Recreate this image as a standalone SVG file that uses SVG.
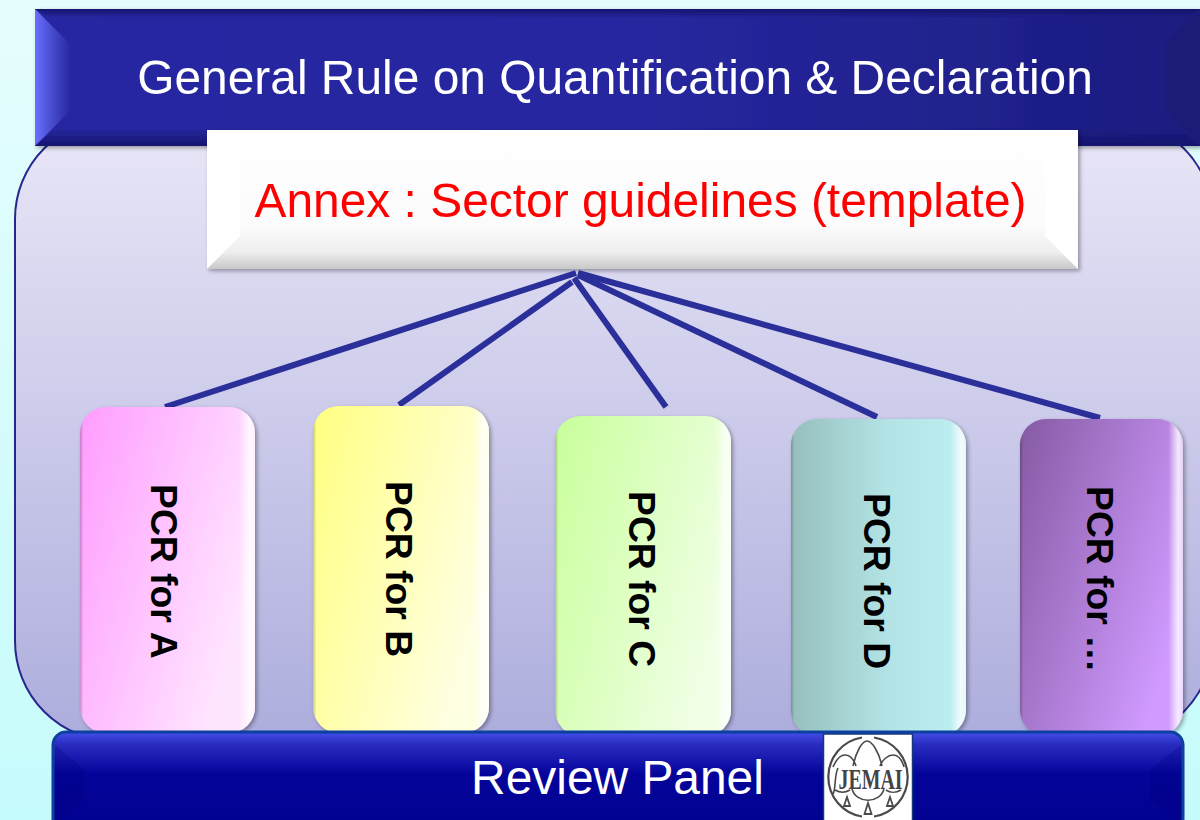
<svg xmlns="http://www.w3.org/2000/svg" width="1200" height="820" viewBox="0 0 1200 820">
<style>
.s{font-family:"Liberation Sans",Arial,sans-serif}
.t{font-size:47.900px;text-anchor:middle}
.p{font-size:37.300px;font-weight:700;fill:#000}
.c{fill:none;stroke:#2b2f9a;stroke-width:6}
.card{filter:url(#sh)}
.log{fill:none;stroke:#4a4a4a;stroke-width:1.600}
.tri{fill:none;stroke:#4a4a4a;stroke-width:1.800}
</style>
<defs>
<linearGradient id="bg" x1="0" y1="0" x2="0" y2="1"><stop offset="0" stop-color="#e6fdfd"/><stop offset="1" stop-color="#c6fbfb"/></linearGradient>
<linearGradient id="pn" x1="0" y1="0" x2="0" y2="1"><stop offset="0" stop-color="#e9e7f7"/><stop offset="1" stop-color="#adaddd"/></linearGradient>
<linearGradient id="hd" x1="0" y1="0" x2="1" y2="0"><stop offset="0" stop-color="#2828a2"/><stop offset=".5" stop-color="#2727a0"/><stop offset="1" stop-color="#1c1c80"/></linearGradient>
<linearGradient id="hdl" x1="0" y1="0" x2="1" y2="0"><stop offset="0" stop-color="#6a70ff"/><stop offset=".45" stop-color="#4a4ed0"/><stop offset="1" stop-color="#2828a2"/></linearGradient>
<linearGradient id="hdb" x1="0" y1="0" x2="0" y2="1"><stop offset="0" stop-color="#14146e" stop-opacity="0"/><stop offset="1" stop-color="#14146e"/></linearGradient>
<linearGradient id="hdt" x1="0" y1="0" x2="0" y2="1"><stop offset="0" stop-color="#14146e"/><stop offset="1" stop-color="#14146e" stop-opacity="0"/></linearGradient>
<linearGradient id="an" x1="0" y1="0" x2="0" y2="1"><stop offset="0" stop-color="#fff"/><stop offset=".7" stop-color="#fbfbfb"/><stop offset=".88" stop-color="#eeeeee"/><stop offset="1" stop-color="#c8c8c8"/></linearGradient>
<linearGradient id="rv" x1="0" y1="0" x2="0" y2="1"><stop offset="0" stop-color="#4450ea"/><stop offset=".12" stop-color="#2a2cc0"/><stop offset=".42" stop-color="#04049a"/><stop offset="1" stop-color="#020290"/></linearGradient>
<linearGradient id="ga" x1="0" y1="0" x2="1" y2=".5"><stop offset="0" stop-color="#ff9cff"/><stop offset="1" stop-color="#ffe6ff"/></linearGradient>
<linearGradient id="gb" x1="0" y1="0" x2="1" y2=".5"><stop offset="0" stop-color="#ffff80"/><stop offset="1" stop-color="#ffffe2"/></linearGradient>
<linearGradient id="gc" x1="0" y1="0" x2="1" y2=".5"><stop offset="0" stop-color="#c8ff9a"/><stop offset="1" stop-color="#f0ffe5"/></linearGradient>
<linearGradient id="gd" x1="0" y1="0" x2="1" y2="0"><stop offset="0" stop-color="#96bfbd"/><stop offset=".55" stop-color="#b3e3e5"/><stop offset="1" stop-color="#bdf0f3"/></linearGradient>
<linearGradient id="ge" x1="0" y1="0" x2="1" y2=".6"><stop offset="0" stop-color="#855aa3"/><stop offset="1" stop-color="#d09aff"/></linearGradient>
<linearGradient id="ed" x1="0" y1="0" x2="1" y2="0"><stop offset="0" stop-color="#000" stop-opacity=".22"/><stop offset=".02" stop-color="#000" stop-opacity="0"/><stop offset=".91" stop-color="#fff" stop-opacity="0"/><stop offset=".97" stop-color="#fff" stop-opacity=".8"/><stop offset="1" stop-color="#fff" stop-opacity=".6"/></linearGradient>
<filter id="sh" x="-5%" y="-5%" width="112%" height="112%"><feDropShadow dx="2" dy="2" stdDeviation="2" flood-color="#000" flood-opacity=".35"/></filter>
</defs>

<rect width="1200" height="820" fill="url(#bg)"/>
<g id="panel"><rect x="15" y="119" width="1198" height="622" rx="100" fill="url(#pn)" stroke="#26268c" stroke-width="2"/></g>

<g id="header" filter="url(#sh)">
<rect x="35" y="9" width="1165" height="137" fill="url(#hd)"/>
<polygon points="35,9 70,44 70,111 35,146" fill="url(#hdl)"/>
<polygon points="35,9 50,18 1185,18 1200,9" fill="url(#hdt)"/>
<polygon points="35,146 55,128 1180,128 1200,146" fill="url(#hdb)"/>
<polygon points="1200,9 1165,44 1165,111 1200,146" fill="#1b1b78"/>
<text class="s t" x="615" y="94" fill="#fff">General Rule on Quantification &amp; Declaration</text>
</g>

<g id="annex" filter="url(#sh)">
<rect x="207" y="130" width="871" height="139" fill="url(#an)"/>
<polygon points="207,130 240,163 240,236 207,269" fill="#fff"/>
<polygon points="1078,130 1045,163 1045,236 1078,269" fill="#fff"/>
<text class="s t" x="640.500" y="217" fill="#f00">Annex : Sector guidelines (template)</text>
</g>

<g id="connectors">
<line class="c" x1="165" y1="407" x2="576" y2="273"/>
<line class="c" x1="399" y1="405" x2="572" y2="282"/>
<line class="c" x1="666" y1="407" x2="574" y2="278"/>
<line class="c" x1="877" y1="417" x2="578" y2="275"/>
<line class="c" x1="1100" y1="418" x2="578" y2="273"/>
</g>

<g id="pcr-a"><rect class="card" x="80" y="407" width="175" height="326" rx="26" fill="url(#ga)"/><rect x="80" y="407" width="175" height="326" rx="26" fill="url(#ed)"/><text class="s p" transform="translate(151,484) rotate(90)">PCR for A</text></g>
<g id="pcr-b"><rect class="card" x="313" y="406" width="176" height="327" rx="26" fill="url(#gb)"/><rect x="313" y="406" width="176" height="327" rx="26" fill="url(#ed)"/><text class="s p" transform="translate(385.500,481) rotate(90)">PCR for B</text></g>
<g id="pcr-c"><rect class="card" x="555" y="416" width="176" height="320" rx="26" fill="url(#gc)"/><rect x="555" y="416" width="176" height="320" rx="26" fill="url(#ed)"/><text class="s p" transform="translate(629,491) rotate(90)">PCR for C</text></g>
<g id="pcr-d"><rect class="card" x="791" y="419" width="175" height="317" rx="26" fill="url(#gd)"/><rect x="791" y="419" width="175" height="317" rx="26" fill="url(#ed)"/><text class="s p" transform="translate(864,493) rotate(90)">PCR for D</text></g>
<g id="pcr-e"><rect class="card" x="1020" y="419" width="163" height="317" rx="26" fill="url(#ge)"/><rect x="1020" y="419" width="163" height="317" rx="26" fill="url(#ed)"/><text class="s p" transform="translate(1086.500,486) rotate(90)">PCR for …</text></g>

<g id="review">
<rect x="53" y="732" width="1130" height="100" rx="13" fill="url(#rv)" stroke="#0b3fa0" stroke-width="3"/>
<polygon points="55,745 85,770 85,800 55,825" fill="#00007a" opacity=".25"/>
<polygon points="1181,745 1150,770 1150,800 1181,825" fill="#00007a" opacity=".25"/>
<text class="s t" x="617.500" y="794" fill="#fff">Review Panel</text>
</g>

<g id="logo">
<rect x="823.500" y="734" width="89" height="90" fill="#fff" stroke="#123a7a" stroke-width="1.500"/>
<path d="M862 737.500A40 40 0 0 0 862 816.500M874 816.500A40 40 0 0 0 874 737.500" fill="none" stroke="#4a4a4a" stroke-width="2.200"/>
<path class="log" d="M833 767C836 760 840 755 845 755C850 755 854 760 856 766M853 766C856 752 862 741 867 741C872 741 879 752 882 766M880 766C882 760 888 755 893 755C898 755 902 760 904 767"/>
<path class="log" d="M835 790C840 793 845 793 850 790M852 789C856 804 880 804 884 789M886 790C890 793 896 793 901 790"/>
<path class="tri" d="M847 797l-3 9h6zM868 803l-3.500 11h7zM890 797l-3 9h6z"/>
<path class="log" d="M838 768C834 776 836 790 833 794"/>
<text x="870.500" y="789" text-anchor="middle" font-family="'Liberation Serif',serif" font-weight="700" font-size="29" fill="#444" textLength="64" lengthAdjust="spacingAndGlyphs">JEMAI</text>
</g>
</svg>
